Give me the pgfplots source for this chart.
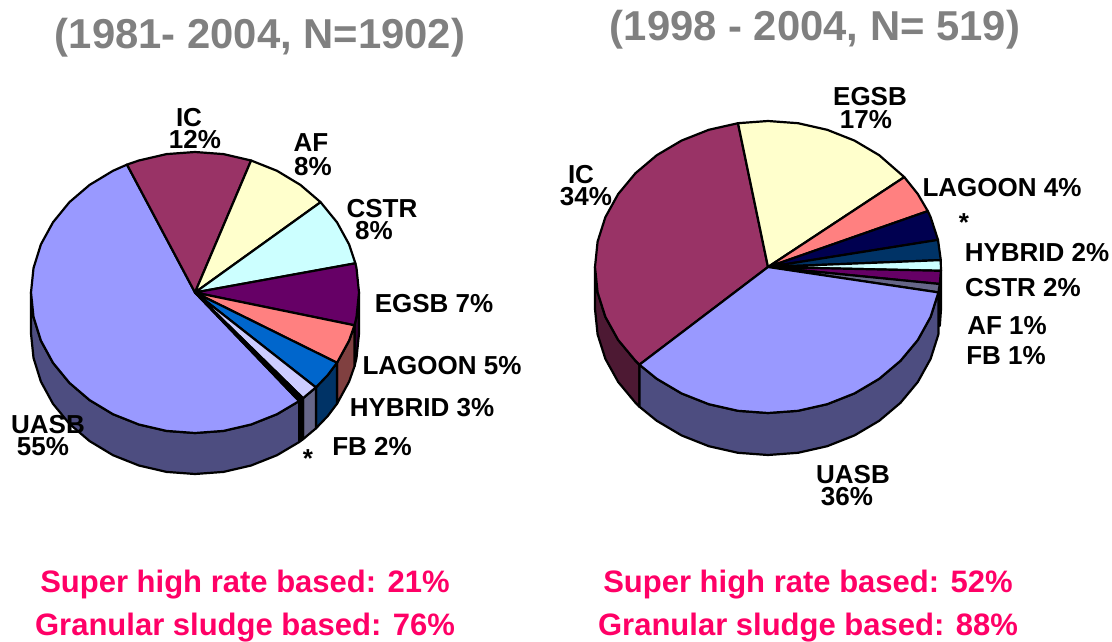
\documentclass[border=0pt]{standalone}
\usepackage{pgfplots}
\pgfplotsset{compat=1.18}
\usepackage{fontspec}
\setmainfont{Liberation Sans}
\definecolor{cUA}{HTML}{9999FF}\definecolor{cUAs}{HTML}{4D4D80}
\definecolor{cIC}{HTML}{993366}\definecolor{cICs}{HTML}{4D1933}
\definecolor{cAF}{HTML}{FFFFCC}\definecolor{cCS}{HTML}{CCFFFF}
\definecolor{cEG}{HTML}{660066}\definecolor{cEGs}{HTML}{330033}
\definecolor{cLA}{HTML}{FF8080}\definecolor{cLAs}{HTML}{804040}
\definecolor{cHY}{HTML}{0066CC}\definecolor{cHYs}{HTML}{003366}
\definecolor{cFB}{HTML}{CCCCFF}\definecolor{cFBs}{HTML}{666688}
\definecolor{cNV}{HTML}{000050}\definecolor{cGR}{HTML}{666688}
\definecolor{cPK}{HTML}{FF0066}\definecolor{cTT}{HTML}{808080}
\newcommand{\lab}[3]{\node[font=\fontsize{26}{26}\selectfont\bfseries,inner sep=0pt] at (axis cs:#1,#2) {#3};}
\newcommand{\pink}[3]{\node[font=\fontsize{31}{31}\selectfont\bfseries,text=cPK,inner sep=0pt] at (axis cs:#1,#2) {#3};}
\newcommand{\ttl}[3]{\node[font=\fontsize{41.8}{42}\selectfont\bfseries,text=cTT,inner sep=0pt] at (axis cs:#1,#2) {#3};}
\begin{document}
\begin{tikzpicture}[x=1pt,y=1pt]
\path[use as bounding box] (0,0) rectangle (1112,642);
\begin{axis}[at={(0,0)},anchor=south west,width=1112pt,height=642pt,scale only axis,
  xmin=0,xmax=1112,ymin=0,ymax=642,y dir=reverse,hide axis,clip=false,
  every axis plot/.append style={draw=black,line width=2.2pt,line join=round,mark=none}]
% ---- left pie: side walls
\addplot[fill=cEGs] coordinates {(359,292.5)(356.5,316.9)(354.5,325.3)(354.5,366.3)(356.5,357.9)(359,333.5)} --cycle;
\addplot[fill=cLAs] coordinates {(354.5,325.3)(349.1,340.6)(337,362.75)(337,403.75)(349.1,381.6)(354.5,366.3)} --cycle;
\addplot[fill=cHYs] coordinates {(337,362.75)(327.7,375.1)(315.9,387.4)(315.9,428.4)(327.7,416.1)(337,403.75)} --cycle;
\addplot[fill=cFBs] coordinates {(315.9,387.4)(303,398.2)(303,439.2)(315.9,428.4)} --cycle;
\addplot[fill=black] coordinates {(303,398.2)(299.1,401.1)(299.1,442.1)(303,439.2)} --cycle;
\addplot[fill=cUAs] coordinates {(299.1,401.1)(277,414.2)(251.1,424.5)(223.5,430.9)(195,433)(166.5,430.9)(138.9,424.5)(113,414.2)(89.6,400.1)(69.4,382.8)(53,362.8)(40.9,340.6)(33.5,316.9)(31,292.5)(31,333.5)(33.5,357.9)(40.9,381.6)(53,403.8)(69.4,423.8)(89.6,441.1)(113,455.2)(138.9,465.5)(166.5,471.9)(195,474)(223.5,471.9)(251.1,465.5)(277,455.2)(299.1,442.1)} --cycle;
% ---- left pie: top
\addplot[fill=cUA] coordinates {(195,292.5)(299.1,401.1)(277,414.2)(251.1,424.5)(223.5,430.9)(195,433)(166.5,430.9)(138.9,424.5)(113,414.2)(89.6,400.1)(69.4,382.8)(53,362.8)(40.9,340.6)(33.5,316.9)(31,292.5)(33.5,268.1)(40.9,244.4)(53,222.3)(69.4,202.2)(89.6,184.9)(113,170.8)(127,164.6)} --cycle;
\addplot[fill=cIC] coordinates {(195,292.5)(127,164.6)(138.9,160.5)(166.5,154.1)(195,152)(223.5,154.1)(251.1,160.5)} --cycle;
\addplot[fill=cAF] coordinates {(195,292.5)(251.1,160.5)(277,170.8)(300.4,184.9)(320.6,202.2)} --cycle;
\addplot[fill=cCS] coordinates {(195,292.5)(320.6,202.2)(337,222.3)(349.1,244.4)(355.4,263.3)} --cycle;
\addplot[fill=cEG] coordinates {(195,292.5)(355.4,263.3)(356.5,268.1)(359,292.5)(356.5,316.9)(354.5,325.3)} --cycle;
\addplot[fill=cLA] coordinates {(195,292.5)(354.5,325.3)(349.1,340.6)(337,362.75)} --cycle;
\addplot[fill=cHY] coordinates {(195,292.5)(337,362.75)(327.7,375.1)(315.9,387.4)} --cycle;
\addplot[fill=cFB] coordinates {(195,292.5)(315.9,387.4)(303,398.2)} --cycle;
\addplot[fill=black] coordinates {(195,292.5)(303,398.2)(299.1,401.1)} --cycle;
% ---- right pie: side walls
\addplot[fill=cICs] coordinates {(639.4,364.7)(635.5,360.8)(618.2,340)(605.4,316.9)(597.6,292.4)(595,267)(595,309)(597.6,334.4)(605.4,358.9)(618.2,382)(635.5,402.8)(639.4,406.7)} --cycle;
\addplot[fill=cEGs] coordinates {(939.8,284)(941,267)(941,309)(939.8,326)} --cycle;
\addplot[fill=cUAs] coordinates {(938.4,292.4)(930.6,316.9)(917.8,340)(900.5,360.8)(879.2,378.8)(854.5,393.4)(827.2,404.2)(798,410.8)(768,413)(738,410.8)(708.8,404.2)(681.5,393.4)(656.8,378.8)(639.4,364.7)(639.4,406.7)(656.8,420.8)(681.5,435.4)(708.8,446.2)(738,452.8)(768,455)(798,452.8)(827.2,446.2)(854.5,435.4)(879.2,420.8)(900.5,402.8)(917.8,382)(930.6,358.9)(938.4,334.4)} --cycle;
% ---- right pie: top
\addplot[fill=cIC] coordinates {(768,267)(639.4,364.7)(635.5,360.8)(618.2,340)(605.4,316.9)(597.6,292.4)(595,267)(597.6,241.6)(605.4,217.1)(618.2,194)(635.5,173.2)(656.8,155.2)(681.5,140.6)(708.8,129.8)(738,123.2)} --cycle;
\addplot[fill=cAF] coordinates {(768,267)(738,123.2)(768,121)(798,123.2)(827.2,129.8)(854.5,140.6)(879.2,155.2)(904.3,177.1)} --cycle;
\addplot[fill=cLA] coordinates {(768,267)(904.3,177.1)(917.8,194)(927.8,211.1)} --cycle;
\addplot[fill=cNV] coordinates {(768,267)(927.8,211.1)(930.6,217.1)(938,239.9)} --cycle;
\addplot[fill=cHYs] coordinates {(768,267)(938,239.9)(940.8,260.1)} --cycle;
\addplot[fill=cCS] coordinates {(768,267)(940.8,260.1)(940.9,270.8)} --cycle;
\addplot[fill=cEG] coordinates {(768,267)(940.9,270.8)(939.8,284)} --cycle;
\addplot[fill=cGR] coordinates {(768,267)(939.8,284)(938.4,292.4)} --cycle;
\addplot[fill=cUA] coordinates {(768,267)(938.4,292.4)(930.6,316.9)(917.8,340)(900.5,360.8)(879.2,378.8)(854.5,393.4)(827.2,404.2)(798,410.8)(768,413)(738,410.8)(708.8,404.2)(681.5,393.4)(656.8,378.8)(639.4,364.7)} --cycle;
% ---- text
\ttl{260}{38}{(1981- 2004, N=1902)}
\ttl{815}{30}{(1998 - 2004, N= 519)}
\lab{189}{118}{IC}\lab{195}{140}{12\%}
\lab{311}{143}{AF}\lab{313}{167}{8\%}
\lab{382}{209}{CSTR}\lab{374}{231}{8\%}
\lab{434}{304}{EGSB 7\%}
\lab{442}{366}{LAGOON 5\%}
\lab{422}{408}{HYBRID 3\%}
\lab{372}{447}{FB 2\%}
\lab{308}{459}{*}
\lab{48}{425}{UASB}\lab{43}{447}{55\%}
\lab{870}{97}{EGSB}\lab{866}{120}{17\%}
\lab{1002}{188}{LAGOON 4\%}
\lab{964}{223}{*}
\lab{1037}{253}{HYBRID 2\%}
\lab{1023}{288}{CSTR 2\%}
\lab{1007}{326}{AF 1\%}
\lab{1006}{356}{FB 1\%}
\lab{581}{175}{IC}\lab{586}{197}{34\%}
\lab{853}{475}{UASB}\lab{847}{497}{36\%}
\pink{245}{584.5}{Super high rate based: 21\%}
\pink{245}{628}{Granular sludge based: 76\%}
\pink{808}{584.5}{Super high rate based: 52\%}
\pink{808}{628}{Granular sludge based: 88\%}
\end{axis}
\end{tikzpicture}
\end{document}
